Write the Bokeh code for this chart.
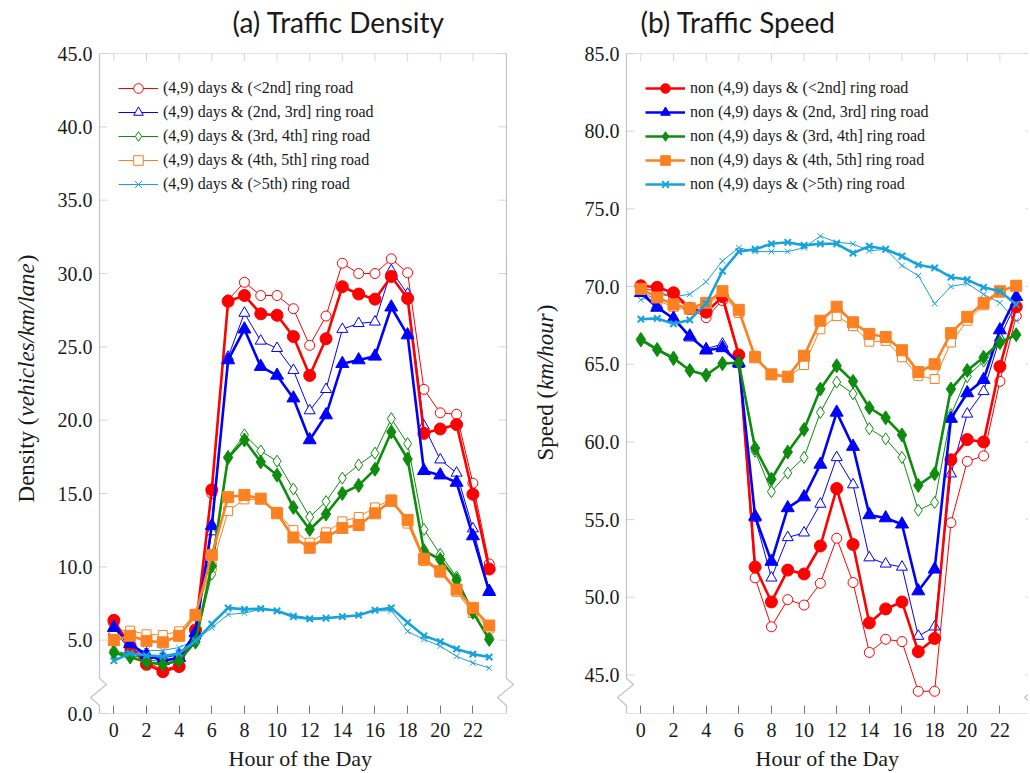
import math
from bokeh.plotting import figure
from bokeh.models import (Range1d, FixedTicker, PrintfTickFormatter,
                          Legend, LegendItem, PolyAnnotation)
from bokeh.layouts import row, column
from bokeh.embed import file_html
from bokeh.resources import INLINE
from bokeh.core.properties import value

# ---------------- data ----------------
hours = list(range(24))
ring_names = ["(<2nd]", "(2nd, 3rd]", "(3rd, 4th]", "(4th, 5th]", "(>5th)"]
x_ticks = [0, 2, 4, 6, 8, 10, 12, 14, 16, 18, 20, 22]
density_ticks = [0.0, 5.0, 10.0, 15.0, 20.0, 25.0, 30.0, 35.0, 40.0, 45.0]
speed_ticks = [45.0, 50.0, 55.0, 60.0, 65.0, 70.0, 75.0, 80.0, 85.0]

# Traffic density, (4,9) days
dens_49_r2 = [6.1, 4.3, 3.5, 3.0, 3.3, 5.5, 15.0, 28.2, 29.4, 28.5, 28.5, 27.6, 25.1, 27.1, 30.7, 30.0, 30.0, 31.0, 30.05, 22.1, 20.5, 20.4, 15.7, 10.2]
dens_49_r3 = [5.6, 4.4, 4.0, 3.8, 4.0, 5.3, 12.4, 24.3, 27.3, 25.4, 24.9, 23.4, 20.65, 22.1, 26.2, 26.6, 26.7, 30.2, 28.6, 19.6, 17.3, 16.4, 12.6, 8.4]
dens_49_r4 = [4.3, 4.0, 3.7, 3.5, 3.8, 4.8, 9.5, 17.5, 19.0, 17.9, 17.2, 15.3, 13.4, 14.45, 16.05, 16.95, 17.75, 20.1, 18.4, 12.55, 10.85, 9.3, 6.9, 5.2]
dens_49_r5 = [5.7, 5.65, 5.4, 5.35, 5.6, 6.8, 10.0, 13.8, 14.6, 14.6, 13.75, 12.5, 11.65, 12.35, 13.1, 13.4, 14.05, 14.6, 12.95, 10.4, 9.6, 8.3, 6.85, 5.8]
dens_49_r6 = [3.9, 4.3, 4.3, 4.3, 4.5, 5.0, 5.85, 6.75, 6.85, 7.1, 7.0, 6.7, 6.5, 6.5, 6.6, 6.7, 7.0, 7.0, 5.6, 5.05, 4.6, 3.9, 3.45, 3.1]

# Traffic density, non (4,9) days
dens_non_r2 = [6.35, 4.6, 3.35, 2.85, 3.2, 5.7, 15.25, 28.1, 28.5, 27.25, 27.15, 25.7, 23.05, 25.55, 29.1, 28.6, 28.25, 29.8, 28.3, 19.1, 19.4, 19.7, 14.95, 9.85]
dens_non_r3 = [5.85, 4.75, 4.0, 3.6, 3.8, 5.5, 12.8, 24.1, 26.2, 23.65, 23.05, 21.5, 18.65, 20.35, 23.85, 24.1, 24.35, 27.7, 25.8, 16.55, 16.25, 15.75, 12.1, 8.3]
dens_non_r4 = [4.15, 3.85, 3.5, 3.35, 3.6, 4.9, 10.05, 17.45, 18.65, 17.15, 16.25, 14.05, 12.55, 13.6, 15.0, 15.55, 16.65, 19.2, 17.35, 11.1, 10.5, 9.1, 6.9, 5.05]
dens_non_r5 = [5.0, 5.3, 4.95, 4.85, 5.3, 6.7, 10.8, 14.75, 14.9, 14.65, 13.65, 12.0, 11.3, 12.0, 12.65, 12.85, 13.65, 14.5, 13.2, 10.55, 9.7, 8.45, 7.2, 6.0]
dens_non_r6 = [3.6, 4.1, 3.95, 3.9, 4.1, 4.95, 6.1, 7.2, 7.1, 7.15, 7.0, 6.6, 6.45, 6.5, 6.6, 6.7, 7.05, 7.2, 6.2, 5.3, 4.9, 4.4, 4.05, 3.85]

# Traffic speed, (4,9) days
speed_49_r2 = [69.9, 69.7, 69.3, 68.6, 68.0, 69.1, 65.5, 51.25, 48.1, 49.85, 49.5, 50.9, 53.8, 50.95, 46.45, 47.3, 47.15, 43.95, 43.95, 54.8, 58.75, 59.1, 63.9, 68.1]
speed_49_r3 = [69.6, 68.8, 67.9, 66.7, 66.0, 66.3, 65.0, 55.1, 51.25, 53.85, 54.15, 56.0, 59.0, 57.25, 52.55, 52.15, 51.95, 47.5, 48.1, 57.95, 61.8, 63.25, 66.7, 69.0]
speed_49_r4 = [66.5, 65.9, 65.3, 64.6, 64.3, 65.0, 65.1, 59.4, 56.8, 58.0, 59.0, 61.9, 63.85, 63.1, 60.85, 60.2, 59.0, 55.6, 56.1, 61.75, 64.2, 65.2, 66.35, 66.9]
speed_49_r5 = [69.7, 69.1, 68.7, 68.5, 68.8, 69.5, 68.3, 65.55, 64.3, 64.15, 64.95, 67.25, 68.1, 67.45, 66.45, 66.5, 65.45, 64.25, 64.05, 66.4, 67.8, 68.8, 69.6, 70.1]
speed_49_r6 = [69.15, 69.5, 69.35, 69.5, 70.3, 71.65, 72.5, 72.25, 72.25, 72.25, 72.5, 73.25, 72.85, 72.75, 72.3, 72.4, 71.35, 70.7, 68.9, 70.0, 70.2, 69.5, 68.95, 67.8]

# Traffic speed, non (4,9) days
speed_non_r2 = [70.05, 69.95, 69.6, 68.6, 68.35, 69.35, 65.6, 51.95, 49.7, 51.75, 51.5, 53.3, 57.0, 53.4, 48.35, 49.25, 49.7, 46.5, 47.35, 58.85, 60.15, 60.0, 64.85, 68.7]
speed_non_r3 = [69.6, 68.65, 67.95, 66.8, 65.9, 66.05, 65.1, 55.2, 52.3, 55.75, 56.45, 58.55, 61.9, 59.7, 55.3, 55.1, 54.7, 50.4, 51.8, 61.5, 63.15, 64.0, 67.2, 69.35]
speed_non_r4 = [66.6, 65.95, 65.4, 64.6, 64.3, 65.05, 65.1, 59.6, 57.6, 59.35, 60.8, 63.4, 64.9, 63.9, 62.2, 61.55, 60.45, 57.2, 57.95, 63.4, 64.6, 65.45, 66.4, 66.9]
speed_non_r5 = [69.85, 69.3, 68.85, 68.6, 68.95, 69.7, 68.5, 65.45, 64.35, 64.2, 65.55, 67.8, 68.7, 67.7, 66.95, 66.75, 65.9, 64.5, 65.0, 67.0, 68.05, 68.95, 69.7, 70.05]
speed_non_r6 = [67.9, 67.95, 67.6, 67.85, 68.9, 71.0, 72.25, 72.4, 72.75, 72.85, 72.65, 72.75, 72.75, 72.15, 72.6, 72.4, 71.95, 71.4, 71.2, 70.6, 70.45, 69.95, 69.7, 68.85]

dens_49 = [dens_49_r2, dens_49_r3, dens_49_r4, dens_49_r5, dens_49_r6]
dens_non = [dens_non_r2, dens_non_r3, dens_non_r4, dens_non_r5, dens_non_r6]
speed_49 = [speed_49_r2, speed_49_r3, speed_49_r4, speed_49_r5, speed_49_r6]
speed_non = [speed_non_r2, speed_non_r3, speed_non_r4, speed_non_r5, speed_non_r6]

# ---------------- style / layout constants ----------------
COLORS = ["#FF0000", "#0000FF", "#0E8C0E", "#FB8122", "#17A2DD"]
MARKERS = ["circle", "triangle", "diamond", "square", "x"]
SIZE_FILLED = [12, 13, 14, 11, 9]
SIZE_OPEN = [10, 11, 12, 9, 8]
SERIF = "Liberation Serif"
SANS = "Lato"
TEXT_COLOR = "#1a1a1a"
FRAME_COLOR = "#3a3a3a"
TICK_COLOR = "#777777"
TICK_LEN = 8

PAGE_W = 1028
TITLE_H = 40            # page y 0..40
MB_TOP, FRAME_H, MB_BOTTOM = 13, 660, 32   # frame: page y 53..713
PANEL_H = MB_TOP + FRAME_H + MB_BOTTOM     # page y 40..745
BOTTOM_H = 27           # page y 745..772
FRAME_TOP_Y = TITLE_H + MB_TOP
FRAME_BOT_Y = FRAME_TOP_Y + FRAME_H
PAD = 10                # frame extends PAD px beyond the drawn axis box (room for the axis-break marks)
K = 16.32               # px per hour
X_START = -0.88         # hour at the drawn left axis
BOX_W = 407             # drawn axis box width in px


def text_strip(x0, x1, y_top, y_bot, height, mb_top, mb_bot, entries):
    s = figure(width=int(x1 - x0), height=height, x_range=Range1d(x0, x1), y_range=Range1d(y_bot, y_top),
               output_backend="svg", toolbar_location=None, min_border=0,
               min_border_top=mb_top, min_border_bottom=mb_bot,
               x_axis_location=None, y_axis_location=None)
    s.outline_line_color = None
    s.xgrid.grid_line_color = None
    s.ygrid.grid_line_color = None
    for (x, y, txt, font, size, style, angle) in entries:
        s.text(x=[x], y=[y], text=[txt], angle=angle, text_font=value(font),
               text_font_size=value(size), text_font_style=value(style),
               text_align="left", text_baseline="middle", text_color=TEXT_COLOR)
    return s


def rotated_label(x, y_center, size, parts):
    # page coordinates: y grows downward, text reads bottom-to-top
    total = sum(w for _, _, w in parts) * size
    y = y_center + total / 2.0
    out = []
    for txt, style, w in parts:
        out.append((x, y, txt, SERIF, "%dpx" % size, style, math.pi / 2))
        y -= w * size + 1
    return out


def build_panel(width, bl, frame_w, y0, y1, yticks, series_thin, series_thick,
                legend_from_thick, legend_prefix):
    x0 = X_START - PAD / K
    x1 = x0 + frame_w / K
    p = figure(width=width, height=PANEL_H, x_range=Range1d(x0, x1), y_range=Range1d(y0, y1),
               output_backend="svg", toolbar_location=None,
               min_border_left=bl, min_border_right=0, min_border_top=MB_TOP,
               min_border_bottom=MB_BOTTOM)
    p.outline_line_color = None
    p.xgrid.grid_line_color = None
    p.ygrid.grid_line_color = None

    xa = p.xaxis[0]
    xa.ticker = FixedTicker(ticks=x_ticks)
    xa.axis_line_color = None
    xa.major_tick_in = TICK_LEN
    xa.major_tick_out = 0
    xa.major_tick_line_color = TICK_COLOR
    xa.minor_tick_line_color = None
    xa.major_label_text_font = SERIF
    xa.major_label_text_font_size = "20px"
    xa.major_label_text_color = TEXT_COLOR
    xa.major_label_standoff = 9

    ya = p.yaxis[0]
    ya.ticker = FixedTicker(ticks=yticks)
    ya.formatter = PrintfTickFormatter(format="%.1f")
    ya.axis_line_color = None
    ya.major_tick_in = 0
    ya.major_tick_out = 0
    ya.minor_tick_line_color = None
    ya.major_label_text_font = SERIF
    ya.major_label_text_font_size = "20px"
    ya.major_label_text_color = TEXT_COLOR
    ya.major_label_standoff = -3

    H = FRAME_H
    L, R = PAD, PAD + BOX_W
    # inward tick marks: top and left / right edges of the drawn box
    for t in x_ticks:
        sx = L + (t - X_START) * K
        p.add_layout(PolyAnnotation(xs=[sx, sx], ys=[H, H - TICK_LEN], xs_units="screen", ys_units="screen",
                                    fill_alpha=0, line_color=TICK_COLOR, line_width=1))
    for t in yticks:
        sy = (t - y0) / (y1 - y0) * H
        p.add_layout(PolyAnnotation(xs=[L, L + TICK_LEN], ys=[sy, sy], xs_units="screen", ys_units="screen",
                                    fill_alpha=0, line_color=TICK_COLOR, line_width=1))
        if sy > 1:
            p.add_layout(PolyAnnotation(xs=[R, R - TICK_LEN], ys=[sy, sy], xs_units="screen", ys_units="screen",
                                        fill_alpha=0, line_color=TICK_COLOR, line_width=1))

    items = []
    for i in range(5):
        c = COLORS[i]
        ln = p.line(hours, series_thin[i], line_color=c, line_width=1.0)
        sc = p.scatter(hours, series_thin[i], marker=MARKERS[i], size=SIZE_OPEN[i],
                       line_color=c, fill_color="white", line_width=1.0)
        if not legend_from_thick:
            items.append(LegendItem(label=legend_prefix + "(4,9) days & " + ring_names[i] + " ring road",
                                    renderers=[ln, sc]))
    for i in range(5):
        c = COLORS[i]
        ln = p.line(hours, series_thick[i], line_color=c, line_width=2.6)
        sc = p.scatter(hours, series_thick[i], marker=MARKERS[i], size=SIZE_FILLED[i],
                       line_color=c, fill_color=c, line_width=2.0 if MARKERS[i] == "x" else 1.0)
        if legend_from_thick:
            items.append(LegendItem(label=legend_prefix + "(4,9) days & " + ring_names[i] + " ring road",
                                    renderers=[ln, sc]))

    legend = Legend(items=items, location=(L + 19, 517), border_line_color=None,
                    background_fill_alpha=0, padding=0, margin=0, spacing=0,
                    glyph_width=40, glyph_height=24, label_height=24, label_standoff=5,
                    label_text_font=SERIF, label_text_font_size="16px", label_text_color=TEXT_COLOR)
    p.add_layout(legend)

    # axis box with the axis-break ("crunch") marks on both vertical sides
    xs = [L, R, R, R + 7, R - 9, R, R, L, L, L - 9, L + 7, L, L]
    ys = [H, H, 35, 29, 16, 8, 0, 0, 8, 16, 29, 35, H]
    p.add_layout(PolyAnnotation(xs=xs, ys=ys, xs_units="screen", ys_units="screen",
                                fill_alpha=0, line_color=FRAME_COLOR, line_width=1.2))
    return p


# horizontal layout (page x): ylab1 0..45 | p1 45..516 | ylab2 516..570 | p2 570..1028
p1 = build_panel(width=471, bl=44, frame_w=427, y0=0.0, y1=45.0, yticks=density_ticks,
                 series_thin=dens_49, series_thick=dens_non, legend_from_thick=False, legend_prefix="")
p2 = build_panel(width=458, bl=46, frame_w=412, y0=42.52, y1=85.0, yticks=speed_ticks,
                 series_thin=speed_49, series_thick=speed_non, legend_from_thick=True, legend_prefix="non ")

ylab1 = text_strip(0, 45, FRAME_TOP_Y, FRAME_BOT_Y, PANEL_H, MB_TOP, MB_BOTTOM,
                   rotated_label(26, 379, 23, [("Density (", "normal", 3.694),
                                               ("vehicles/km/lane", "italic", 6.665),
                                               (")", "normal", 0.333)]))
ylab2 = text_strip(516, 570, FRAME_TOP_Y, FRAME_BOT_Y, PANEL_H, MB_TOP, MB_BOTTOM,
                   rotated_label(545, 383, 23, [("Speed (", "normal", 3.027),
                                                ("km/hour", "italic", 3.333),
                                                (")", "normal", 0.333)]))

titles = text_strip(0, PAGE_W, 0, TITLE_H, TITLE_H, 0, 0, [
    (232, 21, "(a)  Traffic Density", SANS, "28px", "normal", 0.0),
    (640, 21, "(b) Traffic Speed", SANS, "28px", "normal", 0.0),
])
xlabels = text_strip(0, PAGE_W, TITLE_H + PANEL_H, TITLE_H + PANEL_H + BOTTOM_H, BOTTOM_H, 0, 0, [
    (228, 758, "Hour of the Day", SERIF, "22px", "normal", 0.0),
    (755, 758, "Hour of the Day", SERIF, "22px", "normal", 0.0),
])

layout = column(titles, row(ylab1, p1, ylab2, p2), xlabels)
open("out.html", "w").write(file_html(layout, INLINE))
